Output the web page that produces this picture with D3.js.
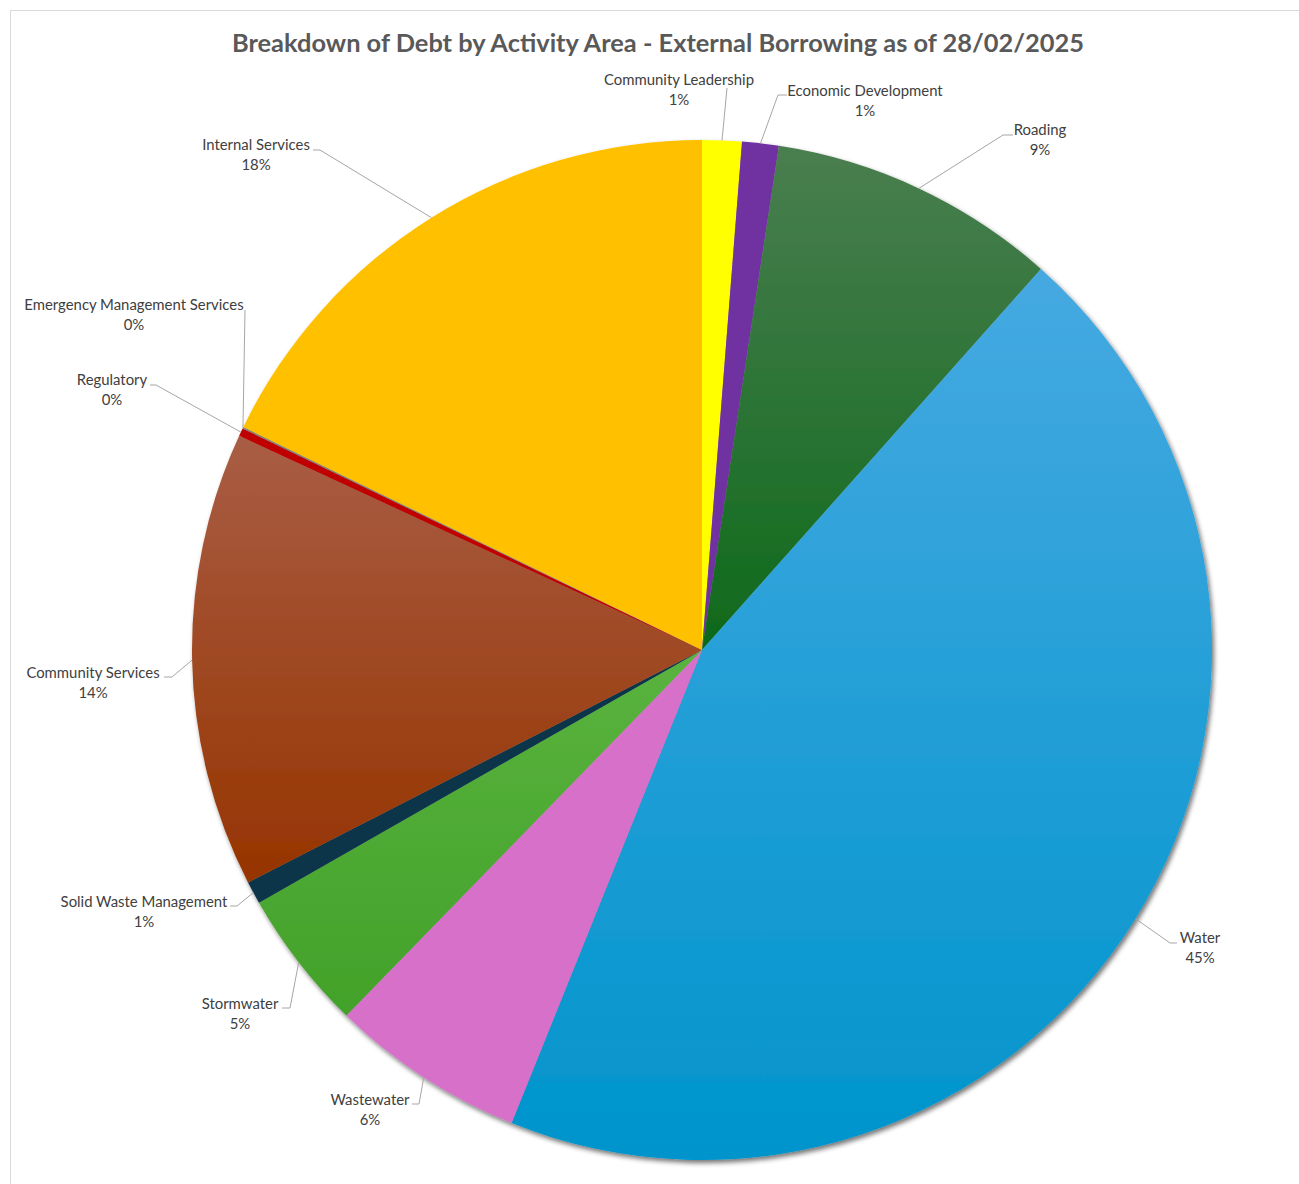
<!DOCTYPE html>
<html>
<head>
<meta charset="utf-8">
<script src="https://cdn.jsdelivr.net/npm/d3@7"></script>
<style>
  body { margin: 0; background: #fff; }
  svg { display: block; }
</style>
</head>
<body>
<div id="chart"></div>
<script>
// activity areas, clockwise from 12 o'clock
const categories = [
    "Community Leadership", "Economic Development", "Roading", "Water", "Wastewater",
    "Stormwater", "Solid Waste Management", "Community Services", "Regulatory",
    "Emergency Management Services", "Internal Services"
];
// share of external borrowing (%)
const shares = [1.25, 1.16, 9.16, 44.52, 6.19, 4.47, 0.72, 14.43, 0.25, 0.05, 17.8];
const pctLabels = ["1%", "1%", "9%", "45%", "6%", "5%", "1%", "14%", "0%", "0%", "18%"];

// gradient top / bottom for each slice
const topColors = ["#ffff00", "#7030a0", "#4a7e50", "#46a9e1", "#d670c9", "#5ab33e", "#0c3449", "#a95d45", "#c00000", "#7f7f7f", "#ffc000"];
const bottomColors = ["#ffff00", "#7030a0", "#0e6a1b", "#0094cc", "#d670c9", "#42a12a", "#0c3449", "#963400", "#c00000", "#7f7f7f", "#ffc000"];

// label text centre (x, first line middle) and leader start/elbow
const labelPos = [
    { x: 679, y: 80, lead: [[727, 88]] },
    { x: 865, y: 91, lead: [[787, 95], [778, 95]] },
    { x: 1040, y: 130, lead: [[1013, 135], [1003, 135]] },
    { x: 1200, y: 938, lead: [[1177, 943], [1170, 943]] },
    { x: 370, y: 1100, lead: [[412, 1104], [419, 1104]] },
    { x: 240, y: 1004, lead: [[282, 1008], [290, 1008]] },
    { x: 144, y: 902, lead: [[230, 906], [237, 906]] },
    { x: 93, y: 673, lead: [[164, 677], [172, 677]] },
    { x: 112, y: 380, lead: [[150, 385], [156, 385]] },
    { x: 134, y: 305, lead: [[245, 310]] },
    { x: 256, y: 145, lead: [[313, 150], [320, 150]] }
];

const width = 1299, height = 1184;
const cx = 702, cy = 650, radius = 510;
const fontFam = "Lato, 'Open Sans', sans-serif";

const svg = d3.select("#chart").append("svg")
    .attr("width", width)
    .attr("height", height);

const defs = svg.append("defs");

const shadow = defs.append("filter")
    .attr("id", "shadow")
    .attr("x", "-10%").attr("y", "-10%")
    .attr("width", "120%").attr("height", "120%");
shadow.append("feGaussianBlur").attr("in", "SourceAlpha").attr("stdDeviation", 2.5);
shadow.append("feOffset").attr("dx", 2).attr("dy", 3).attr("result", "off");
shadow.append("feComponentTransfer").append("feFuncA").attr("type", "linear").attr("slope", 0.55);
const merge = shadow.append("feMerge");
merge.append("feMergeNode");
merge.append("feMergeNode").attr("in", "SourceGraphic");

categories.forEach((c, i) => {
    const g = defs.append("linearGradient")
        .attr("id", "grad" + i)
        .attr("x1", 0).attr("y1", 0).attr("x2", 0).attr("y2", 1);
    g.append("stop").attr("offset", "0%").attr("stop-color", topColors[i]);
    g.append("stop").attr("offset", "100%").attr("stop-color", bottomColors[i]);
});

// chart frame
svg.append("rect")
    .attr("x", 10.5).attr("y", 10.5)
    .attr("width", width).attr("height", height)
    .attr("fill", "none")
    .attr("stroke", "#d9d9d9");

svg.append("text")
    .attr("x", 658)
    .attr("y", 52)
    .attr("text-anchor", "middle")
    .style("font-family", fontFam)
    .style("font-weight", "bold")
    .style("font-size", "25.4px")
    .style("fill", "#595959")
    .text("Breakdown of Debt by Activity Area - External Borrowing as of 28/02/2025");

const data = categories.map((c, i) => ({ name: c, value: shares[i], pct: pctLabels[i], idx: i }));

const pie = d3.pie().sort(null).value(d => d.value);
const arcs = pie(data);
const arc = d3.arc().innerRadius(0).outerRadius(radius);

const pieG = svg.append("g")
    .attr("transform", `translate(${cx},${cy})`);

const shadowG = pieG.append("g").attr("filter", "url(#shadow)");
shadowG.selectAll("path")
    .data(arcs)
    .enter().append("path")
    .attr("d", arc)
    .attr("fill", d => `url(#grad${d.data.idx})`);

// leader lines
const lines = svg.append("g")
    .attr("fill", "none")
    .attr("stroke", "#a6a6a6")
    .attr("stroke-width", 1);

arcs.forEach((a, i) => {
    const mid = (a.startAngle + a.endAngle) / 2;
    const end = [cx + radius * Math.sin(mid), cy - radius * Math.cos(mid)];
    const pts = labelPos[i].lead.concat([end]);
    lines.append("path").attr("d", d3.line()(pts));
});

const labels = svg.append("g")
    .style("font-family", fontFam)
    .style("font-size", "14.9px")
    .style("fill", "#404040")
    .attr("text-anchor", "middle");

arcs.forEach((a, i) => {
    const t = labels.append("text")
        .attr("x", labelPos[i].x)
        .attr("y", labelPos[i].y + 5);
    t.append("tspan").attr("x", labelPos[i].x).text(a.data.name);
    t.append("tspan").attr("x", labelPos[i].x).attr("dy", 20).text(a.data.pct);
});
</script>
</body>
</html>
